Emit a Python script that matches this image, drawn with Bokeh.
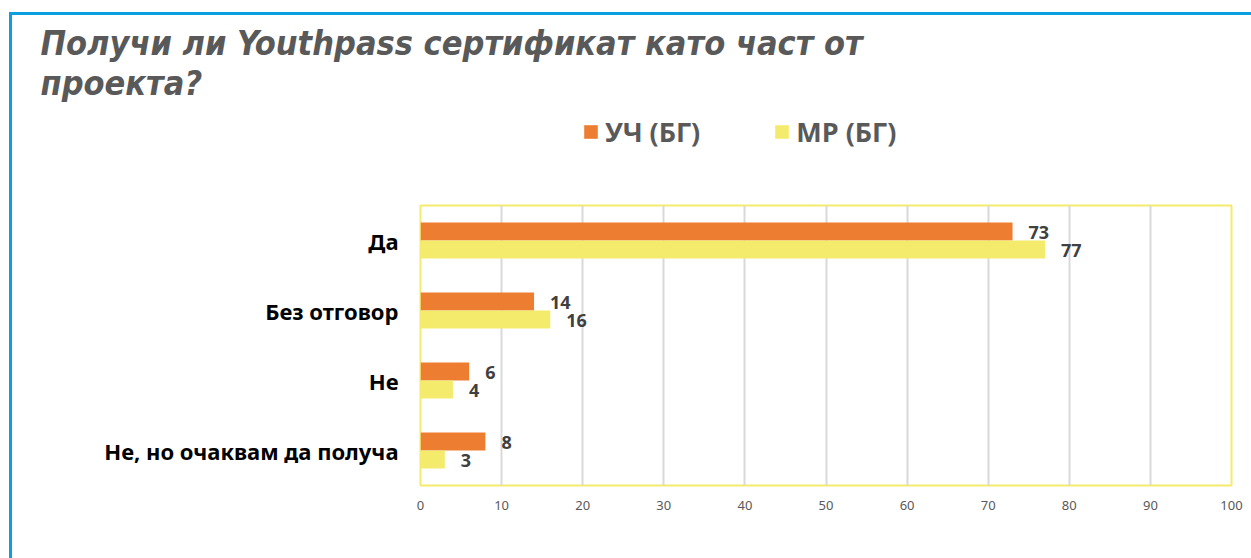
from bokeh.plotting import figure
from bokeh.layouts import column
from bokeh.models import (ColumnDataSource, FactorRange, Range1d, FixedTicker, Legend,
                          LegendItem, Title)
from bokeh.transform import dodge
from bokeh.core.properties import value
from bokeh.embed import file_html
from bokeh.resources import INLINE

# ---- data ----
categories = ["Да", "Без отговор", "Не", "Не, но очаквам да получа"]
uch_bg = [73, 14, 6, 8]
mr_bg = [77, 16, 4, 3]
series_names = ["УЧ (БГ)", "МР (БГ)"]
x_ticks = [0, 10, 20, 30, 40, 50, 60, 70, 80, 90, 100]
title_text = "Получи ли Youthpass сертификат като част от\nпроекта?"

ORANGE = "#ED7D31"
YELLOW = "#F4EB6D"
BLUE = "#0AA0E0"

src = ColumnDataSource(dict(cat=categories, uch=uch_bg, mr=mr_bg,
                            uch_lbl=[str(v) for v in uch_bg],
                            mr_lbl=[str(v) for v in mr_bg]))

# ---------- header figure: title + legend ----------
head = figure(width=1239, height=186, x_range=Range1d(0, 1), y_range=Range1d(0, 1),
              output_backend="svg", toolbar_location=None,
              x_axis_location=None, y_axis_location=None,
              min_border_left=408, min_border_right=20, min_border_top=0, min_border_bottom=0)
head.grid.grid_line_color = None
head.outline_line_color = None
head.title = Title(text=title_text, align="left", offset=-380, standoff=11,
                   text_font="DejaVu Sans Condensed", text_font_style="bold italic",
                   text_font_size="34px", text_color="#595959")
# legend-only renderers (hidden; they only supply the legend swatches)
lr1 = head.hbar(y="uch", right="uch", height=0.5, source=src, fill_color=ORANGE,
                line_color=None, visible=False)
lr2 = head.hbar(y="mr", right="mr", height=0.5, source=src, fill_color=YELLOW,
                line_color=None, visible=False)
legend = Legend(items=[LegendItem(label=series_names[0], renderers=[lr1]),
                       LegendItem(label=series_names[1], renderers=[lr2])],
                orientation="horizontal", location=(162, 51), click_policy="none",
                padding=0, margin=0, spacing=73, label_standoff=6,
                glyph_width=17, glyph_height=17,
                label_text_font="Open Sans", label_text_font_style="bold",
                label_text_font_size="27px", label_text_color="#595959",
                border_line_color=None, background_fill_alpha=0)
head.add_layout(legend, "center")

# ---------- chart figure ----------
p = figure(width=1239, height=357,
           y_range=FactorRange(factors=list(reversed(categories))),
           x_range=Range1d(0, 100),
           output_backend="svg", toolbar_location=None,
           min_border_left=408, min_border_right=20,
           min_border_top=4, min_border_bottom=73)

bh = 0.257
r1 = p.hbar(y=dodge("cat", 0.1285, range=p.y_range), right="uch", height=bh, left=0,
            source=src, fill_color=ORANGE, line_color=None)
r2 = p.hbar(y=dodge("cat", -0.1285, range=p.y_range), right="mr", height=bh, left=0,
            source=src, fill_color=YELLOW, line_color=None)

lbl_style = dict(text_font=value("Open Sans"), text_font_style="bold",
                 text_font_size="18px", text_color="#404040",
                 text_baseline="middle", text_align="left", x_offset=16, y_offset=1)
p.text(x="uch", y=dodge("cat", 0.1285, range=p.y_range), text="uch_lbl", source=src, **lbl_style)
p.text(x="mr", y=dodge("cat", -0.1285, range=p.y_range), text="mr_lbl", source=src, **lbl_style)

p.xaxis.ticker = FixedTicker(ticks=x_ticks)
p.xaxis.axis_line_color = None
p.xaxis.major_tick_line_color = None
p.xaxis.minor_tick_line_color = None
p.xaxis.major_label_standoff = 9
p.xaxis.major_label_text_font = "Noto Sans"
p.xaxis.major_label_text_font_size = "13px"
p.xaxis.major_label_text_color = "#595959"

p.yaxis.axis_line_color = None
p.yaxis.major_tick_line_color = None
p.yaxis.minor_tick_line_color = None
p.yaxis.major_label_standoff = 16
p.yaxis.major_label_text_font = "Noto Sans"
p.yaxis.major_label_text_font_style = "bold"
p.yaxis.major_label_text_font_size = "22px"
p.yaxis.major_label_text_color = "#000000"

p.xgrid.grid_line_color = "#D9D9D9"
p.xgrid.grid_line_width = 2
p.ygrid.grid_line_color = None

p.outline_line_color = YELLOW
p.outline_line_width = 2
p.outline_line_alpha = 1

layout = column(head, p, spacing=0)
layout.styles = {"border-top": f"3px solid {BLUE}", "border-left": f"3px solid {BLUE}",
                 "margin-top": "12px", "margin-left": "9px"}

open("out.html", "w").write(file_html(layout, INLINE))
